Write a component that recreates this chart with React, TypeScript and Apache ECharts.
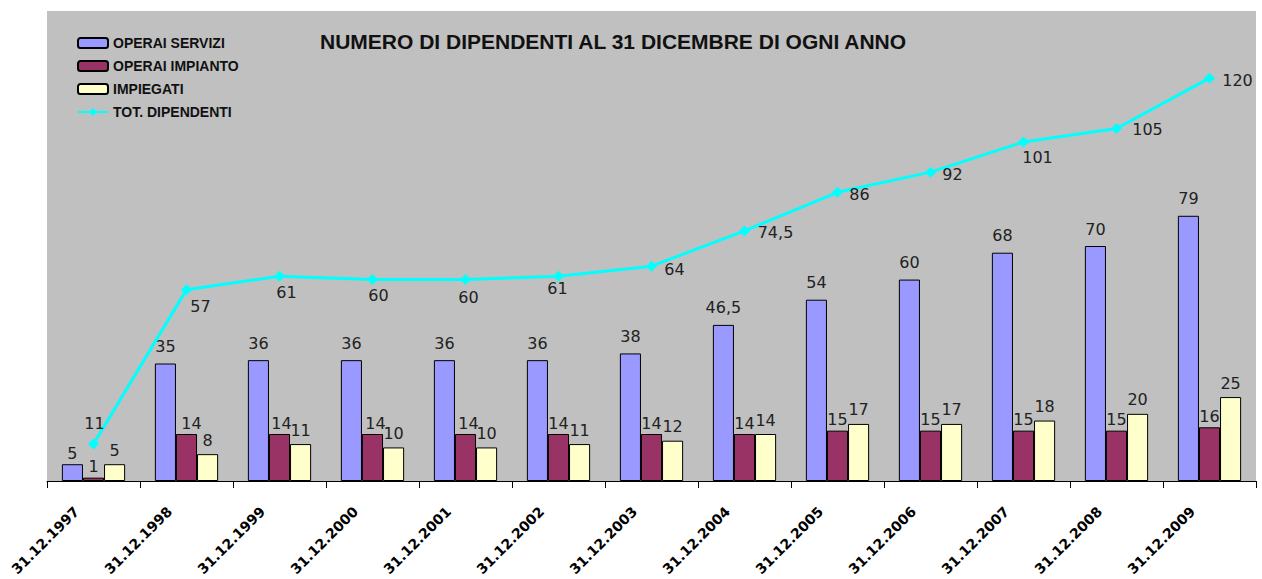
import React, { useEffect, useRef } from "react";
import * as echarts from "echarts";

const categories = [
  "31.12.1997", "31.12.1998", "31.12.1999", "31.12.2000", "31.12.2001",
  "31.12.2002", "31.12.2003", "31.12.2004", "31.12.2005", "31.12.2006",
  "31.12.2007", "31.12.2008", "31.12.2009",
];
const operaiServizi = [5, 35, 36, 36, 36, 36, 38, 46.5, 54, 60, 68, 70, 79];
const operaiImpianto = [1, 14, 14, 14, 14, 14, 14, 14, 15, 15, 15, 15, 16];
const impiegati = [5, 8, 11, 10, 10, 11, 12, 14, 17, 17, 18, 20, 25];
const totDipendenti = [11, 57, 61, 60, 60, 61, 64, 74.5, 86, 92, 101, 105, 120];
const totLabelOffsets: [number, number][] = [
  [1, -21], [14, 17], [7, 16], [6, 16], [3, 18], [-1, 12], [23, 3],
  [31, 2], [22, 2], [22, 2], [14, 16], [31, 1], [28, 2],
];
const impiantoLabelDx = [0, 5, 2, 3, 3, 0, 0, 0, 0, 0, 0, 0, 0];

const fmt = (v: number) => String(v).replace(".", ",");
const labelFont = "DejaVu Sans";
const headFont = "Liberation Sans";

export default function App() {
  const ref = useRef<HTMLDivElement>(null);
  useEffect(() => {
    if (!ref.current) return;
    const chart = echarts.init(ref.current, undefined, { renderer: "svg" });
    const barLabel = (distance: number) => ({
      show: true,
      position: "top" as const,
      distance,
      color: "#222",
      fontFamily: labelFont,
      fontSize: 16,
      formatter: (p: any) => fmt(p.value),
    });
    chart.setOption({
      animation: false,
      backgroundColor: "#ffffff",
      graphic: [
        {
          type: "text",
          x: 320,
          y: 41,
          z: 10,
          style: {
            text: "NUMERO DI DIPENDENTI AL 31 DICEMBRE DI OGNI ANNO",
            fontFamily: headFont,
            fontWeight: "bold",
            fontSize: 21,
            fill: "#111",
            textVerticalAlign: "middle",
            textAlign: "left",
          },
        },
      ],
      legend: {
        orient: "vertical",
        left: 72,
        top: 31,
        itemWidth: 30,
        itemHeight: 10,
        itemGap: 9,
        textStyle: {
          fontFamily: headFont,
          fontWeight: "bold",
          fontSize: 14,
          color: "#111",
          lineHeight: 14,
        },
        data: ["OPERAI SERVIZI", "OPERAI IMPIANTO", "IMPIEGATI", "TOT. DIPENDENTI"],
      },
      grid: {
        left: 47,
        right: 6,
        top: 11,
        bottom: 98,
        show: true,
        backgroundColor: "#C0C0C0",
        borderWidth: 0,
      },
      xAxis: {
        type: "category",
        data: categories,
        axisLine: { lineStyle: { color: "#000", width: 1 } },
        axisTick: { show: true, length: 7, lineStyle: { color: "#000" } },
        axisLabel: {
          rotate: 45,
          margin: 11,
          padding: [0, 24, 0, 0],
          fontFamily: labelFont,
          fontWeight: "bold",
          fontSize: 14,
          color: "#000",
        },
      },
      yAxis: {
        type: "value",
        min: 0,
        max: 140,
        show: false,
        splitLine: { show: false },
      },
      series: [
        {
          name: "OPERAI SERVIZI",
          type: "bar",
          data: operaiServizi.map((v, i) =>
            i === 0 ? { value: v, label: { distance: 3 } } : v
          ),
          barGap: "0%",
          barCategoryGap: "32%",
          itemStyle: { color: "#9999FF", borderColor: "#000", borderWidth: 1 },
          label: barLabel(9),
        },
        {
          name: "OPERAI IMPIANTO",
          type: "bar",
          data: operaiImpianto.map((v, i) => ({
            value: v,
            label: { offset: [impiantoLabelDx[i], 0] },
          })),
          barGap: "0%",
          barCategoryGap: "32%",
          itemStyle: { color: "#993366", borderColor: "#000", borderWidth: 1 },
          label: barLabel(3),
        },
        {
          name: "IMPIEGATI",
          type: "bar",
          data: impiegati,
          barGap: "0%",
          barCategoryGap: "32%",
          itemStyle: { color: "#FFFFCC", borderColor: "#000", borderWidth: 1 },
          label: barLabel(6),
        },
        {
          name: "TOT. DIPENDENTI",
          type: "line",
          symbol: "diamond",
          symbolSize: 11,
          z: 5,
          lineStyle: { color: "#00FFFF", width: 3 },
          itemStyle: { color: "#00FFFF" },
          data: totDipendenti.map((v, i) => ({
            value: v,
            label: {
              show: true,
              position: "inside",
              offset: totLabelOffsets[i],
              color: "#222",
              fontFamily: labelFont,
              fontSize: 16,
              formatter: (p: any) => fmt(p.value),
            },
          })),
        },
      ],
    });
    return () => chart.dispose();
  }, []);
  return (
    <div
      ref={ref}
      style={{ position: "fixed", left: 0, top: 0, width: 1262, height: 579 }}
    />
  );
}
